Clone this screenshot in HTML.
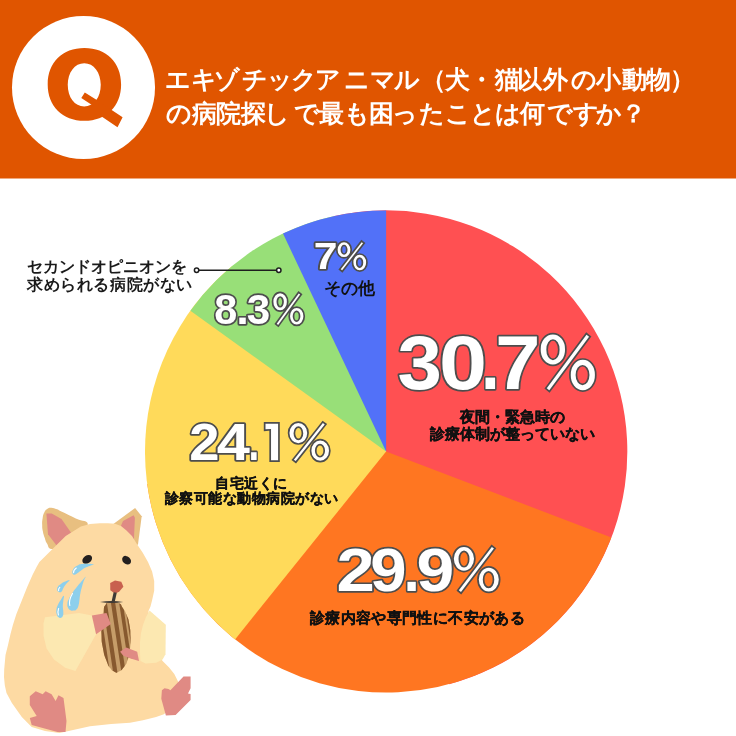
<!DOCTYPE html>
<html lang="ja">
<head>
<meta charset="utf-8">
<style>
html,body{margin:0;padding:0;background:#fff;}
body{width:736px;height:736px;overflow:hidden;position:relative;font-family:"Liberation Sans",sans-serif;}
svg{position:absolute;left:0;top:0;will-change:transform;}
.t{font-family:"Liberation Sans",sans-serif;}
.pct{font-family:"Liberation Sans",sans-serif;font-weight:bold;fill:#fff;stroke:#4d4d4d;stroke-width:3.4;paint-order:stroke;stroke-linejoin:round;}
.pp{fill:#fff;stroke:#4d4d4d;stroke-width:3.4;paint-order:stroke;stroke-linejoin:miter;}
.lb{font-family:"Liberation Sans",sans-serif;font-weight:bold;fill:#111;stroke:#111;stroke-width:0.35;text-anchor:middle;}
</style>
</head>
<body>
<svg width="736" height="736" viewBox="0 0 736 736">
<!-- header -->
<rect x="0" y="0" width="736" height="178.5" fill="#E05500"/>
<circle cx="83.5" cy="87.5" r="71.5" fill="#fff"/>
<path fill="#E05500" fill-rule="evenodd" d="M84.4,48.1 C106.4,48.1 121.1,62.6 121.1,84.4 C121.1,106.2 106.4,120.7 84.4,120.7 C62.4,120.7 47.7,106.2 47.7,84.4 C47.7,62.6 62.4,48.1 84.4,48.1 Z M84.25,63.15 C93.8,63.15 100.75,72.26 100.75,84.85 C100.75,97.44 93.8,106.55 84.25,106.55 C74.7,106.55 67.75,97.44 67.75,84.85 C67.75,72.26 74.7,63.15 84.25,63.15 Z"/>
<path fill="#E05500" d="M81.3,98.1 L84.8,92.6 L100,102 L95,107 Z M100,102.3 L122.6,117.2 L117.5,127.2 L95,111.9 Z"/>
<text x="178.4 203.8 226.9 254.9 279.7 303.9 328.2 356.7 382.9 406.6 433.0 457.1 481.4 507.1 529.4 555.1 583.9 608.0 634.3 658.0 682.5" y="87.5" class="t" font-size="25" font-weight="bold" fill="#fff" text-anchor="middle">エキゾチックアニマル（犬・猫以外の小動物）</text>
<text x="179.4 204.0 228.3 253.5 277.2 306.9 331.6 356.8 381.5 405.4 431.7 458.3 482.6 508.2 532.9 560.0 585.8 609.0 633.7" y="121.5" class="t" font-size="25" font-weight="bold" fill="#fff" text-anchor="middle">の病院探しで最も困ったことは何ですか？</text>

<!-- pie -->
<path d="M386.1,451.5 L333.26,216.26 A241.1,241.1 0 0 1 449.13,684.22 Z" fill="#FF5052"/>
<path d="M386.1,451.5 L611.34,537.51 A241.1,241.1 0 0 1 147.19,483.95 Z" fill="#FF7621"/>
<path d="M386.1,451.5 L235.06,639.42 A241.1,241.1 0 0 1 231.80,266.24 Z" fill="#FFDA5A"/>
<path d="M386.1,451.5 L190.40,310.67 A241.1,241.1 0 0 1 333.26,216.26 Z" fill="#98DF78"/>
<path d="M386.1,451.5 L282.99,233.56 A241.1,241.1 0 0 1 386.10,210.40 Z" fill="#5271F8"/>

<!-- percentages -->
<text transform="translate(397.60,389.10) scale(1.054,1)" class="pct" font-size="75.7">3</text>
<text transform="translate(439.04,389.10) scale(1.141,1)" class="pct" font-size="75.7">0</text>
<text transform="translate(481.06,389.10) scale(0.889,1)" class="pct" font-size="75.7">.</text>
<text transform="translate(495.25,389.10) scale(1.073,1)" class="pct" font-size="75.7">7</text>
<path class="pp" d="M540.70,349.44 A12.17,14.64 0 1,1 565.03,349.44 A12.17,14.64 0 1,1 540.70,349.44 ZM546.33,349.65 A6.64,10.11 0 1,0 559.60,349.65 A6.64,10.11 0 1,0 546.33,349.65 ZM570.77,375.03 A12.07,14.74 0 1,1 594.90,375.03 A12.07,14.74 0 1,1 570.77,375.03 ZM575.59,375.03 A6.94,10.11 0 1,0 589.47,375.03 A6.94,10.11 0 1,0 575.59,375.03 ZM546.75,388.24 L586.51,334.70 L589.05,336.76 L549.29,390.30 Z"/>

<text transform="translate(336.43,591.00) scale(1.126,1)" class="pct" font-size="61.3">2</text>
<text transform="translate(370.14,591.00) scale(1.066,1)" class="pct" font-size="61.3">9</text>
<text transform="translate(403.48,591.00) scale(0.957,1)" class="pct" font-size="61.3">.</text>
<text transform="translate(416.46,591.00) scale(1.109,1)" class="pct" font-size="61.3">9</text>
<path class="pp" d="M453.83,558.86 A10.09,11.87 0 1,1 474.02,558.86 A10.09,11.87 0 1,1 453.83,558.86 ZM458.51,559.03 A5.51,8.20 0 1,0 469.52,559.03 A5.51,8.20 0 1,0 458.51,559.03 ZM478.78,579.61 A10.01,11.96 0 1,1 498.80,579.61 A10.01,11.96 0 1,1 478.78,579.61 ZM482.78,579.61 A5.76,8.20 0 1,0 494.29,579.61 A5.76,8.20 0 1,0 482.78,579.61 ZM458.86,590.33 L491.84,546.90 L493.94,548.57 L460.96,592.00 Z"/>

<text transform="translate(189.17,460.20) scale(1.055,1)" class="pct" font-size="51.6">2</text>
<text transform="translate(216.70,460.20) scale(1.155,1)" class="pct" font-size="51.6">4</text>
<text transform="translate(248.58,460.20) scale(0.749,1)" class="pct" font-size="51.6">.</text>
<path class="pp" d="M265.50,423.80 L278.10,423.80 L278.10,460.20 L271.04,460.20 L271.04,428.90 L265.50,429.30 Z"/>
<path class="pp" d="M289.45,433.10 A8.88,10.03 0 1,1 307.21,433.10 A8.88,10.03 0 1,1 289.45,433.10 ZM293.56,433.25 A4.84,6.93 0 1,0 303.25,433.25 A4.84,6.93 0 1,0 293.56,433.25 ZM311.39,450.64 A8.80,10.10 0 1,1 329.00,450.64 A8.80,10.10 0 1,1 311.39,450.64 ZM314.91,450.64 A5.06,6.93 0 1,0 325.04,450.64 A5.06,6.93 0 1,0 314.91,450.64 ZM293.87,459.69 L322.88,423.00 L324.73,424.41 L295.72,461.10 Z"/>

<text transform="translate(214.26,323.70) scale(0.983,1)" class="pct" font-size="42.1">8</text>
<text transform="translate(236.18,323.70) scale(1.076,1)" class="pct" font-size="42.1">.</text>
<text transform="translate(246.86,323.70) scale(1.002,1)" class="pct" font-size="42.1">3</text>
<path class="pp" d="M273.39,301.75 A6.74,8.29 0 1,1 286.86,301.75 A6.74,8.29 0 1,1 273.39,301.75 ZM276.51,301.87 A3.67,5.73 0 1,0 283.86,301.87 A3.67,5.73 0 1,0 276.51,301.87 ZM290.04,316.25 A6.68,8.35 0 1,1 303.40,316.25 A6.68,8.35 0 1,1 290.04,316.25 ZM292.71,316.25 A3.84,5.73 0 1,0 300.39,316.25 A3.84,5.73 0 1,0 292.71,316.25 ZM276.74,323.73 L298.76,293.40 L300.16,294.57 L278.14,324.90 Z"/>

<text transform="translate(313.69,269.40) scale(1.136,1)" class="pct" font-size="37.6">7</text>
<path class="pp" d="M337.59,249.65 A6.40,7.40 0 1,1 350.39,249.65 A6.40,7.40 0 1,1 337.59,249.65 ZM340.56,249.76 A3.49,5.11 0 1,0 347.54,249.76 A3.49,5.11 0 1,0 340.56,249.76 ZM353.41,262.58 A6.35,7.45 0 1,1 366.10,262.58 A6.35,7.45 0 1,1 353.41,262.58 ZM355.95,262.58 A3.65,5.11 0 1,0 363.24,262.58 A3.65,5.11 0 1,0 355.95,262.58 ZM340.78,269.26 L361.69,242.20 L363.02,243.24 L342.11,270.30 Z"/>

<!-- labels -->
<text x="512" y="421.5" class="lb" font-size="15">夜間・緊急時の</text>
<text x="512" y="439" class="lb" font-size="15">診療体制が整っていない</text>
<text x="417.5" y="623" class="lb" font-size="15" letter-spacing="0.35">診療内容や専門性に不安がある</text>
<text x="251.5" y="488" class="lb" font-size="14" letter-spacing="0.5">自宅近くに</text>
<text x="251.5" y="503" class="lb" font-size="14" letter-spacing="0.5">診察可能な動物病院がない</text>
<text x="349" y="294" class="lb" font-size="17" stroke-width="0" style="stroke-width:0">その他</text>

<text x="27" y="272" class="t" font-size="16" font-weight="bold" fill="#1a1a1a">セカンドオピニオンを</text>
<text x="27" y="290" class="t" font-size="16" font-weight="bold" letter-spacing="0.6" fill="#1a1a1a">求められる病院がない</text>
<line x1="196.6" y1="270.2" x2="278.8" y2="270.2" stroke="#1e1e1e" stroke-width="1.5"/>
<circle cx="196.6" cy="270.2" r="2.2" fill="#fff" stroke="#1e1e1e" stroke-width="1.5"/>
<circle cx="278.8" cy="270.2" r="2.2" fill="#fff" stroke="#1e1e1e" stroke-width="1.5"/>

<!-- hamster -->
<g id="hamster">
<!-- ears -->
<path d="M51.30,507.70 C53.83,507.83 54.17,508.21 57.00,509.30 C59.83,510.39 56.89,509.35 61.90,511.80 C66.91,514.25 68.89,515.11 75.80,518.50 C82.71,521.89 88.01,520.10 87.80,524.50 C87.59,528.90 82.41,529.53 75.00,535.00 C67.59,540.47 66.32,541.29 60.00,545.00 C53.68,548.71 54.77,549.30 51.30,548.90 C47.83,548.50 48.79,546.54 47.00,543.50 C45.21,540.46 45.72,540.83 44.60,537.50 C43.48,534.17 43.44,534.33 42.80,531.00 C42.16,527.67 42.25,528.33 42.20,525.00 C42.15,521.67 42.04,521.83 42.60,518.50 C43.16,515.17 42.99,515.09 44.30,512.50 C45.61,509.91 45.63,510.08 47.50,508.80 C49.37,507.52 48.77,507.57 51.30,507.70 Z" fill="#E8BF80"/>
<path d="M46.4,513.4 L51.7,513.4 L61.5,519.1 L71.3,533 L56.6,545.6 L48,534.2 Z" fill="#E08A84"/>
<path d="M112,525 L135.1,508 L141.7,516.2 L139.9,530 L137.9,545.1 L125,538 Z" fill="#E8BF80"/>
<path d="M123,521.1 L133.6,515.3 L134.9,517.7 L133.9,540.1 L120,528 Z" fill="#E08A84"/>
<!-- body -->
<path d="M80.9,526.6 L90,524 L99.9,523.2 L108,523.2 L115.1,523.8 L121,526 L126.5,530.4 L132,536 L137.2,544.5 L142.6,552.6 L148,562.1 L152.1,571.6 L154.2,581.1 L154.2,590.7 L152.1,600.2 L150.5,606.5 L148.5,611 L150,640 L162.6,660.9 L169.1,667.4 L174.3,673.9 L178.2,681.7 L179,690 L176,702 L170,709 L163.9,714.3 L156.1,716.9 L143,720.2 L130,722.8 L111.2,724.1 L90,726.2 L67.5,731.3 L59.5,732.9 L45,731 L31.7,726.9 L21.8,717 L11.9,703 L6.5,693 L4.8,685.2 L4,677 L4.2,669.4 L5.5,655 L7.9,645.6 L10.5,634 L12.9,625.1 L16.3,614.2 L21.7,600.7 L27.2,587 L32.6,574.8 L36.7,566.7 L39.4,562 L51,550.4 L65.7,536 Z" fill="#FDDAA3"/>
<!-- pale arms -->
<path d="M45,617.2 L59.5,615.4 L79,612.9 L91.9,615.4 L96.1,634.3 L86.4,651.5 L75.4,671 L65.2,667.8 L54,659.5 L46.6,648.5 L43.6,636 L43.5,623.3 Z" fill="#FCE8B1"/>
<path d="M149.5,610.4 L165.8,624.7 L165.5,654.3 L162.6,659.6 L156.1,662.8 L145.6,663.5 L140.4,660.9 L140,652 L140,642 L141,633 L143,625 L146,617 Z" fill="#FCE8B1"/>
<!-- eyes -->
<ellipse cx="87.2" cy="559.4" rx="5.3" ry="3.8" transform="rotate(-35 87.2 559.4)" fill="#231F1F"/>
<ellipse cx="126.6" cy="560.2" rx="4.9" ry="3.8" transform="rotate(42 126.6 560.2)" fill="#231F1F"/>
<!-- nose -->
<path d="M110.2,583 L115,580.5 L121.3,581.8 L123.4,586.8 L119.3,591.6 L115.2,593.7 L110.3,590.3 Z" fill="#C8614F"/>
<path d="M115.2,592.5 L113.2,601.5" stroke="#3E3A36" stroke-width="3.2"/>
<!-- seed -->
<clipPath id="sc"><path d="M110.40,601.60 C114.63,600.93 114.10,600.57 118.30,602.80 C122.50,605.03 120.20,604.13 123.00,608.30 C125.80,612.47 124.57,609.80 126.70,615.30 C128.83,620.80 128.13,617.53 129.40,624.80 C130.67,632.07 130.27,629.40 130.50,637.10 C130.73,644.80 130.93,640.67 130.10,647.90 C129.27,655.13 130.03,652.43 128.00,658.80 C125.97,665.17 127.17,662.70 124.00,667.00 C120.83,671.30 121.67,670.13 118.50,671.70 C115.33,673.27 117.20,672.83 114.50,671.70 C111.80,670.57 113.13,672.13 110.40,668.30 C107.67,664.47 108.80,667.00 106.30,660.20 C103.80,653.40 104.50,656.53 102.90,647.90 C101.30,639.27 101.80,643.33 101.50,634.30 C101.20,625.27 101.37,628.50 102.00,620.80 C102.63,613.10 102.20,616.53 103.40,611.20 C104.60,605.87 103.27,608.00 105.60,604.80 C107.93,601.60 106.17,602.27 110.40,601.60 Z"/></clipPath>
<path d="M110.40,601.60 C114.63,600.93 114.10,600.57 118.30,602.80 C122.50,605.03 120.20,604.13 123.00,608.30 C125.80,612.47 124.57,609.80 126.70,615.30 C128.83,620.80 128.13,617.53 129.40,624.80 C130.67,632.07 130.27,629.40 130.50,637.10 C130.73,644.80 130.93,640.67 130.10,647.90 C129.27,655.13 130.03,652.43 128.00,658.80 C125.97,665.17 127.17,662.70 124.00,667.00 C120.83,671.30 121.67,670.13 118.50,671.70 C115.33,673.27 117.20,672.83 114.50,671.70 C111.80,670.57 113.13,672.13 110.40,668.30 C107.67,664.47 108.80,667.00 106.30,660.20 C103.80,653.40 104.50,656.53 102.90,647.90 C101.30,639.27 101.80,643.33 101.50,634.30 C101.20,625.27 101.37,628.50 102.00,620.80 C102.63,613.10 102.20,616.53 103.40,611.20 C104.60,605.87 103.27,608.00 105.60,604.80 C107.93,601.60 106.17,602.27 110.40,601.60 Z" fill="#C69D69"/>
<g clip-path="url(#sc)"><g fill="#87592F" transform="rotate(-8.6 115.5 637)"><rect x="98.50" y="592" width="6.20" height="90"/><rect x="107.90" y="592" width="4.20" height="90"/><rect x="116.10" y="592" width="4.20" height="90"/><rect x="124.20" y="592" width="3.60" height="90"/><rect x="129.70" y="592" width="3.80" height="90"/></g></g>
<path d="M100,601.9 Q111.5,600 123.2,601.9 Q111.5,604 100,601.9 Z" fill="#3E3A36"/>
<!-- hands -->
<path d="M91.9,615.4 L106.5,612.9 L110.8,624 L96.1,634.3 Z" fill="#E08A84"/>
<path d="M120.1,651.7 L126.2,647.5 L137.2,651.7 L139,660.9 L130.5,658.5 L123.1,655.4 Z" fill="#E08A84"/>
<!-- feet -->
<path d="M29.8,696.2 L35.7,691.2 L42.7,694.2 L45.6,691.2 L51.6,694.2 L55.6,701.1 L58.5,695.2 L63.5,698.1 L66.5,721 L65.5,731.9 L57.5,731.9 L31.7,724.9 L29.8,718 L36.7,716 L29.8,705 Z" fill="#E08A84"/>
<path d="M161.9,690.2 L164.5,688.2 L168.5,688.9 L170.4,690.2 L183.5,676.5 L190.6,676.5 L190.6,688.2 L188,693.5 L190.6,694.1 L190.6,700 L175.6,715 L165.9,715.6 L161.3,698.7 Z" fill="#E08A84"/>
<!-- tears -->
<g fill="#8DCFEC">
<path d="M93.74,564.51 C92.98,564.05 91.33,563.87 88.03,563.75 C84.74,563.62 84.17,563.58 81.38,564.03 C78.59,564.49 79.35,564.57 77.57,565.46 C75.80,566.35 75.99,566.09 74.72,567.36 C73.45,568.63 73.45,568.82 72.82,570.21 C72.19,571.61 72.22,571.45 72.34,572.59 C72.47,573.73 72.53,573.99 73.30,574.49 C74.06,575.00 74.06,574.87 75.20,574.49 C76.34,574.11 75.93,574.21 77.57,573.07 C79.22,571.92 79.10,571.73 81.38,570.21 C83.66,568.69 83.60,568.63 86.13,567.36 C88.67,566.09 88.86,566.22 90.89,565.46 C92.91,564.70 94.50,564.96 93.74,564.51 Z"/>
<path d="M85.66,576.87 C84.90,577.38 83.79,578.83 81.38,581.62 C78.97,584.41 79.03,584.29 76.62,587.33 C74.21,590.37 74.37,589.99 72.34,593.03 C70.32,596.08 70.34,595.95 69.02,598.74 C67.70,601.53 67.65,601.08 67.40,603.49 C67.15,605.90 67.25,606.00 68.07,607.77 C68.88,609.550 68.92,609.39 70.44,610.15 C71.96,610.91 72.12,610.88 73.77,610.62 C75.42,610.37 75.36,610.59 76.62,609.20 C77.89,607.80 77.76,607.93 78.53,605.39 C79.29,602.86 78.97,602.99 79.48,599.69 C79.98,596.39 79.67,596.84 80.43,593.03 C81.19,589.23 81.31,588.98 82.33,585.43 C83.34,581.88 83.34,582.00 84.23,579.72 C85.12,577.44 86.42,576.36 85.66,576.87 Z"/>
<path d="M69.49,580.20 C69.37,579.44 67.50,580.61 65.21,581.62 C62.93,582.64 62.84,582.73 60.93,584.00 C59.03,585.27 59.10,584.98 58.08,586.38 C57.07,587.77 57.13,587.84 57.13,589.23 C57.13,590.62 57.32,590.80 58.08,591.61 C58.84,592.42 58.97,592.40 59.98,592.27 C61.00,592.15 61.00,592.20 61.89,591.13 C62.77,590.07 62.30,590.05 63.31,588.28 C64.33,586.50 64.04,586.63 65.69,584.48 C67.34,582.32 69.62,580.96 69.49,580.20 Z"/>
<path d="M63.79,595.89 C63.15,595.63 62.46,597.41 60.93,599.69 C59.41,601.97 59.27,601.91 58.08,604.44 C56.89,606.98 56.85,606.66 56.47,609.20 C56.09,611.73 56.10,611.80 56.66,613.95 C57.21,616.11 57.42,616.27 58.56,617.28 C59.70,618.29 59.790,618.14 60.93,617.76 C62.08,617.38 62.20,617.38 62.84,615.85 C63.47,614.33 63.31,614.59 63.31,612.05 C63.31,609.51 62.84,609.39 62.84,606.35 C62.84,603.30 63.06,603.43 63.31,600.64 C63.57,597.85 64.42,596.14 63.79,595.89 Z"/>
</g>
<g fill="none" stroke="#fff" stroke-width="1.1" stroke-linecap="round">
<path d="M73.6,572.6 C73.4,570.8 74.6,569.2 76.3,568.0"/>
<path d="M69.8,605.5 C69.0,602 69.8,598 72.5,593.5"/>
<path d="M58.6,590.6 C58.3,589.3 58.8,588.2 59.8,587.3"/>
<path d="M58.4,615.0 C57.8,613 57.9,610.5 58.6,608.5"/>
</g>
</g>
</svg>
</body>
</html>
